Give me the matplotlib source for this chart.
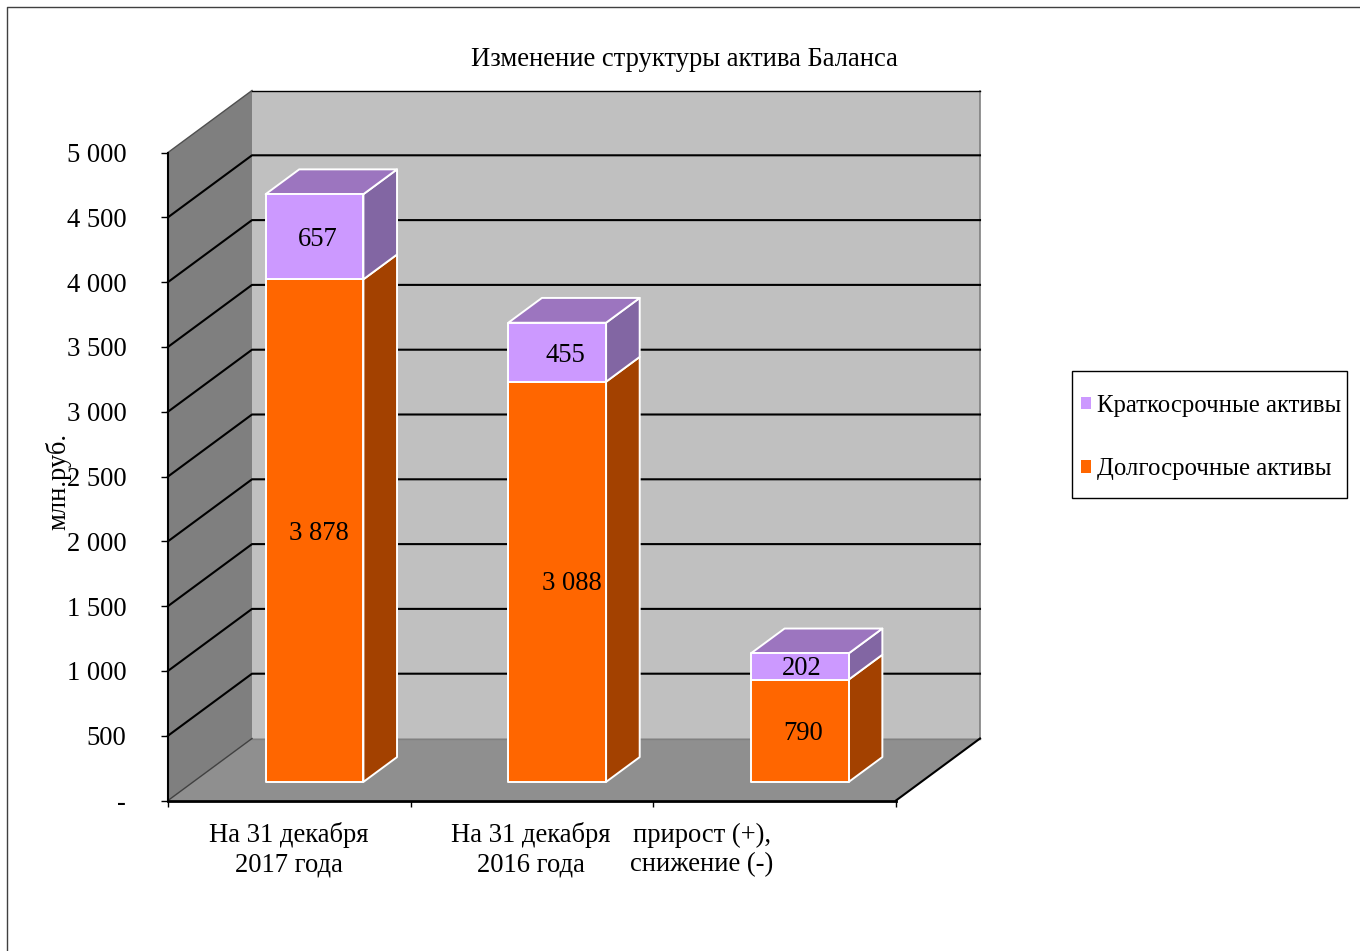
#!/usr/bin/env python
import matplotlib
matplotlib.use('Agg')
import matplotlib.pyplot as plt
from matplotlib.patches import Patch, Polygon, Rectangle

plt.rcParams['font.family'] = ['Liberation Serif', 'DejaVu Serif']
plt.rcParams['font.size'] = 19.2

title = 'Изменение структуры актива Баланса'
categories = ['На 31 декабря\n2017 года', 'На 31 декабря\n2016 года', 'прирост (+),\nснижение (-)']
long_term = [3878, 3088, 790]
short_term = [657, 455, 202]
long_labels = ['3 878', '3 088', '790']
short_labels = ['657', '455', '202']
y_ticks = [0, 500, 1000, 1500, 2000, 2500, 3000, 3500, 4000, 4500, 5000]
y_tick_labels = ['-', '500', '1 000', '1 500', '2 000', '2 500', '3 000', '3 500', '4 000', '4 500', '5 000']

W, H = 1360, 951
orange = ('#ff6600', '#a34100')
purple = ('#cc99ff', '#8266a3', '#9c75bf')

# depth of the fake 3d box, in data units
depth_x = 84 / 242.67
depth_y = 62 / 648 * 5000
bar_w = 0.403
bar_d0, bar_d1 = 0.3, 0.7


def pt(x, y, d=0.0):
    return (x + d * depth_x, y + d * depth_y)


def poly(ax, pts, fc, ec='none', lw=0, z=1):
    ax.add_patch(Polygon(pts, closed=True, fc=fc, ec=ec, lw=lw, zorder=z, clip_on=False, joinstyle='round'))


fig = plt.figure(figsize=(W / 100, H / 100), dpi=100)
ax = fig.add_axes([168 / W, 1 - 800.5 / H, 728 / W, 648 / H])
ax.set_xlim(0, 3)
ax.set_ylim(0, 5000)
ax.patch.set_alpha(0)

# outer chart frame
fig.add_artist(plt.Line2D([7 / W, 7 / W, 1], [0, 1 - 7 / H, 1 - 7 / H], color='#404040', lw=1))

# walls and floor
poly(ax, [pt(0, 0, 1), pt(3, 0, 1), pt(3, 5000, 1), pt(0, 5000, 1)], '#c0c0c0', z=1)
poly(ax, [pt(0, 0), pt(0, 0, 1), pt(0, 5000, 1), pt(0, 5000)], '#7f7f7f', z=1)
poly(ax, [pt(0, 0), pt(3, 0), pt(3, 0, 1), pt(0, 0, 1)], '#8f8f8f', z=1)

ax.plot(*zip(pt(3, 0, 1), pt(3, 5000, 1)), color='#808080', lw=1.2, zorder=1.5, clip_on=False)
ax.plot(*zip(pt(0, 0, 1), pt(3, 0, 1)), color='#808080', lw=1, zorder=1.5, clip_on=False)
ax.plot(*zip(pt(0, 0), pt(0, 0, 1)), color='#404040', lw=1, zorder=1.5, clip_on=False)
ax.plot(*zip(pt(0, 5000), pt(0, 5000, 1)), color='#505050', lw=1, zorder=1.5, clip_on=False)
ax.plot(*zip(pt(3, 0), pt(3, 0, 1)), color='k', lw=1.5, zorder=1.5, clip_on=False)

# gridlines run across the side wall and the back wall
for v in y_ticks[1:]:
    xs, ys = zip(pt(0, v), pt(0, v, 1), pt(3, v, 1))
    if v == 5000:
        xs, ys = xs[1:], ys[1:]
    ax.plot(xs, ys, color='k', lw=1.5 if v < 5000 else 1, zorder=1.6, clip_on=False)

# bars
label_off = [(4, -2.5, 3, -2.5), (15, -1.5, 8, -3), (3, -2.5, 2, -2)]
for i in range(len(categories)):
    x0 = i + 0.5 - bar_w / 2 + bar_d0 * depth_x
    x1 = x0 + bar_w
    dd = bar_d1 - bar_d0
    base_y = bar_d0 * depth_y
    a = long_term[i]
    b = a + short_term[i]
    white = dict(ec='white', lw=1.4)

    def P(x, y, d=0.0):
        return pt(x, y + base_y, d)

    poly(ax, [P(x1, 0), P(x1, 0, dd), P(x1, a, dd), P(x1, a)], orange[1], z=3, **white)
    poly(ax, [P(x1, a), P(x1, a, dd), P(x1, b, dd), P(x1, b)], purple[1], z=3, **white)
    poly(ax, [P(x0, b), P(x1, b), P(x1, b, dd), P(x0, b, dd)], purple[2], z=3, **white)
    poly(ax, [P(x0, 0), P(x1, 0), P(x1, a), P(x0, a)], orange[0], z=3.1, **white)
    poly(ax, [P(x0, a), P(x1, a), P(x1, b), P(x0, b)], purple[0], z=3.1, **white)

    cx = (x0 + x1) / 2
    dx1, dy1, dx2, dy2 = label_off[i]
    ax.annotate(long_labels[i], xy=P(cx, a / 2), xytext=(dx1, dy1), textcoords='offset pixels',
                ha='center', va='center', zorder=5)
    ax.annotate(short_labels[i], xy=P(cx, a + short_term[i] / 2), xytext=(dx2, dy2), textcoords='offset pixels',
                ha='center', va='center', zorder=5)

# axes
for s in ['top', 'right']:
    ax.spines[s].set_visible(False)
ax.spines['left'].set_linewidth(1.5)
ax.spines['bottom'].set_linewidth(2)
ax.spines['left'].set_zorder(2)
ax.spines['bottom'].set_zorder(2)
ax.set_yticks(y_ticks)
ax.set_yticklabels(y_tick_labels)
ax.set_xticks([0, 1, 2, 3])
ax.set_xticklabels([])
ax.tick_params(axis='y', length=5, width=1, pad=25, labelsize=19.2)
ax.tick_params(axis='x', length=4, width=1)

# category labels sit left of the slot centres in the original
label_px = [289, 531, 702]
for x, c in zip(label_px, categories):
    fig.text(x / W, 1 - 850 / H, c, ha='center', va='center', linespacing=1.23)

fig.text(684.5 / W, 1 - 59 / H, title, ha='center', va='center')
fig.text(58 / W, 1 - 482 / H, 'млн.руб.', rotation=90, ha='center', va='center')

# legend box is wider on the left than the text needs, so the frame is drawn apart
fig.add_artist(Rectangle((1072 / W, 1 - 498 / H), 275 / W, 127 / H, transform=fig.transFigure,
                         fc='white', ec='k', lw=1))
handles = [Patch(fc=purple[0], ec='none'), Patch(fc=orange[0], ec='none')]
leg = fig.legend(handles, ['Краткосрочные активы', 'Долгосрочные активы'], loc='center left',
                 bbox_to_anchor=(1081 / W, 1 - 437.5 / H), borderaxespad=0, borderpad=0, frameon=False,
                 fontsize=17.85, handlelength=0.4, handleheight=0.4, handletextpad=0.24, labelspacing=1.67)
leg.set_zorder(10)

fig.savefig('out.png', dpi=100)
